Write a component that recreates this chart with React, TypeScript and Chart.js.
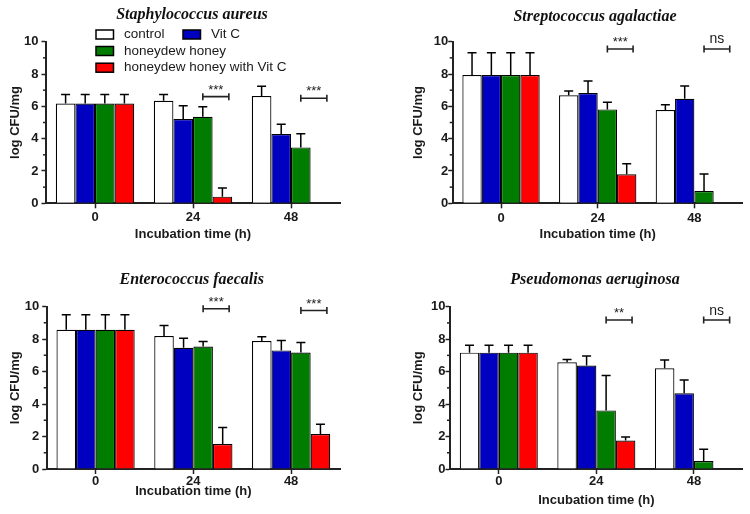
import React, { useEffect, useRef } from "react";
import { Chart, registerables } from "chart.js";

Chart.register(...registerables);

// ---------- data ----------
const categories = ["0", "24", "48"];
const seriesNames = ["control", "Vit C", "honeydew honey", "honeydew honey with Vit C"];
const seriesColors = ["#ffffff", "#0000c0", "#007c00", "#ff0000"];
const yMin = 0;
const yMax = 10;
const yStep = 2;
const xAxisTitle = "Incubation time (h)";
const yAxisTitle = "log CFU/mg";

// Staphylococcus aureus
const saControl = [6.18, 6.35, 6.64];
const saVitC = [6.18, 5.21, 4.29];
const saHoney = [6.18, 5.36, 3.46];
const saHoneyVitC = [6.18, 0.41, null];
const saControlErr = [0.56, 0.39, 0.61];
const saVitCErr = [0.56, 0.83, 0.6];
const saHoneyErr = [0.56, 0.61, 0.84];
const saHoneyVitCErr = [0.56, 0.54, 0];
const saSig = [
  { cat: 1, y: 6.6, label: "***" },
  { cat: 2, y: 6.5, label: "***" },
];

// Streptococcus agalactiae
const sgControl = [7.94, 6.68, 5.77];
const sgVitC = [7.94, 6.82, 6.47];
const sgHoney = [7.94, 5.81, 0.76];
const sgHoneyVitC = [7.94, 1.79, null];
const sgControlErr = [1.38, 0.27, 0.33];
const sgVitCErr = [1.38, 0.75, 0.79];
const sgHoneyErr = [1.38, 0.44, 1.05];
const sgHoneyVitCErr = [1.38, 0.66, 0];
const sgSig = [
  { cat: 1, y: 9.55, label: "***" },
  { cat: 2, y: 9.55, label: "ns" },
];

// Enterococcus faecalis
const efControl = [8.57, 8.18, 7.87];
const efVitC = [8.57, 7.46, 7.3];
const efHoney = [8.57, 7.54, 7.17];
const efHoneyVitC = [8.57, 1.54, 2.15];
const efControlErr = [0.92, 0.65, 0.27];
const efVitCErr = [0.92, 0.59, 0.61];
const efHoneyErr = [0.92, 0.31, 0.62];
const efHoneyVitCErr = [0.92, 1.02, 0.6];
const efSig = [
  { cat: 1, y: 9.86, label: "***" },
  { cat: 2, y: 9.75, label: "***" },
];

// Pseudomonas aeruginosa
const paControl = [7.17, 6.58, 6.21];
const paVitC = [7.17, 6.37, 4.67];
const paHoney = [7.17, 3.61, 0.49];
const paHoneyVitC = [7.17, 1.76, null];
const paControlErr = [0.45, 0.16, 0.51];
const paVitCErr = [0.45, 0.6, 0.82];
const paHoneyErr = [0.45, 2.15, 0.72];
const paHoneyVitCErr = [0.45, 0.21, 0];
const paSig = [
  { cat: 1, y: 9.18, label: "**" },
  { cat: 2, y: 9.18, label: "ns" },
];

// ---------- styles / layout ----------
const AXIS = "#222222";
const TEXT = "#1a1a1a";
const SANS = '"Liberation Sans", Arial, sans-serif';
const SERIF = '"Liberation Serif", "Times New Roman", serif';

type Sig = { cat: number; y: number; label: string };
type PanelCfg = {
  title: string;
  values: (number | null)[][];
  errors: number[][];
  sig: Sig[];
  left: number;
  top: number;
  padTop: number;
  padRight: number;
  yW: number;
  xH: number;
  yTitlePad: number;
  xTitlePad: number;
  xTickPad: number;
  yTickPad: number;
  titleX: number;
  titleY: number;
  legend: boolean;
};

const panels: PanelCfg[] = [
  {
    title: "Staphylococcus aureus",
    values: [saControl, saVitC, saHoney, saHoneyVitC],
    errors: [saControlErr, saVitCErr, saHoneyErr, saHoneyVitCErr],
    sig: saSig,
    left: 0, top: 0, padTop: 41.7, padRight: 35, yW: 46, xH: 53.7,
    yTitlePad: 7.2, xTitlePad: 14.9, xTickPad: 1, yTickPad: 3,
    titleX: 192, titleY: 15, legend: true,
  },
  {
    title: "Streptococcus agalactiae",
    values: [sgControl, sgVitC, sgHoney, sgHoneyVitC],
    errors: [sgControlErr, sgVitCErr, sgHoneyErr, sgHoneyVitCErr],
    sig: sgSig,
    left: 375, top: 0, padTop: 41.7, padRight: 7.3, yW: 77.7, xH: 53.7,
    yTitlePad: 35.5, xTitlePad: 14.9, xTickPad: 2, yTickPad: 0,
    titleX: 220, titleY: 16.7, legend: false,
  },
  {
    title: "Enterococcus faecalis",
    values: [efControl, efVitC, efHoney, efHoneyVitC],
    errors: [efControlErr, efVitCErr, efHoneyErr, efHoneyVitCErr],
    sig: efSig,
    left: 0, top: 257, padTop: 49.5, padRight: 35, yW: 46.7, xH: 45,
    yTitlePad: 7.2, xTitlePad: 14.9, xTickPad: 0, yTickPad: 3,
    titleX: 191.7, titleY: 23.3, legend: false,
  },
  {
    title: "Pseudomonas aeruginosa",
    values: [paControl, paVitC, paHoney, paHoneyVitC],
    errors: [paControlErr, paVitCErr, paHoneyErr, paHoneyVitCErr],
    sig: paSig,
    left: 375, top: 257, padTop: 49.7, padRight: 7.3, yW: 75, xH: 45,
    yTitlePad: 35.5, xTitlePad: 5.9, xTickPad: 0, yTickPad: 0,
    titleX: 220, titleY: 23.3, legend: false,
  },
];

function makeAnnotPlugin(cfg: PanelCfg) {
  return {
    id: "annot",
    afterDatasetsDraw(chart: any) {
      const ctx = chart.ctx;
      const yScale = chart.scales.y;
      ctx.save();
      ctx.strokeStyle = "#000";
      ctx.lineWidth = 1.5;
      // error bars (upper only)
      cfg.values.forEach((series, ds) => {
        const meta = chart.getDatasetMeta(ds);
        meta.data.forEach((el: any, j: number) => {
          const v = series[j];
          if (v == null) return;
          const e = cfg.errors[ds][j];
          if (!e) return;
          const x = el.x;
          const yTop = yScale.getPixelForValue(v + e);
          const yBar = el.y;
          ctx.beginPath();
          ctx.moveTo(x, yBar);
          ctx.lineTo(x, yTop);
          ctx.moveTo(x - 4.5, yTop);
          ctx.lineTo(x + 4.5, yTop);
          ctx.stroke();
        });
      });
      ctx.restore();
    },
    afterDraw(chart: any) {
      const ctx = chart.ctx;
      const yScale = chart.scales.y;
      const area = chart.chartArea;
      ctx.save();
      // minor y ticks
      ctx.strokeStyle = AXIS;
      ctx.lineWidth = 1.5;
      for (let v = yMin + yStep / 2; v < yMax; v += yStep) {
        const y = yScale.getPixelForValue(v);
        ctx.beginPath();
        ctx.moveTo(area.left - 3, y);
        ctx.lineTo(area.left, y);
        ctx.stroke();
      }
      // significance brackets
      cfg.sig.forEach((s) => {
        const el = chart.getDatasetMeta(2).data[s.cat];
        const x1 = el.x;
        const x2 = x1 + el.width * 1.33;
        const y = yScale.getPixelForValue(s.y);
        ctx.strokeStyle = AXIS;
        ctx.lineWidth = 1.6;
        ctx.beginPath();
        ctx.moveTo(x1, y);
        ctx.lineTo(x2, y);
        ctx.moveTo(x1, y - 3.5);
        ctx.lineTo(x1, y + 3.5);
        ctx.moveTo(x2, y - 3.5);
        ctx.lineTo(x2, y + 3.5);
        ctx.stroke();
        ctx.fillStyle = TEXT;
        ctx.textAlign = "center";
        ctx.textBaseline = "alphabetic";
        if (s.label === "ns") {
          ctx.font = `14px ${SANS}`;
          ctx.fillText(s.label, (x1 + x2) / 2, y - 5.5);
        } else {
          ctx.font = `13px ${SANS}`;
          ctx.fillText(s.label, (x1 + x2) / 2, y - 3);
        }
      });
      // panel title
      ctx.fillStyle = "#111";
      ctx.font = `italic bold 16px ${SERIF}`;
      ctx.textAlign = "center";
      ctx.textBaseline = "middle";
      ctx.fillText(cfg.title, cfg.titleX, cfg.titleY);
      // legend
      if (cfg.legend) {
        const items = [
          { i: 0, bx: 96, cy: 34.5 },
          { i: 1, bx: 183, cy: 34.5 },
          { i: 2, bx: 96, cy: 51 },
          { i: 3, bx: 96, cy: 67.7 },
        ];
        ctx.font = `13.5px ${SANS}`;
        ctx.textAlign = "left";
        ctx.textBaseline = "middle";
        items.forEach((it) => {
          ctx.fillStyle = seriesColors[it.i];
          ctx.fillRect(it.bx, it.cy - 4.5, 17.5, 9);
          ctx.strokeStyle = "#000";
          ctx.lineWidth = 1.5;
          ctx.strokeRect(it.bx, it.cy - 4.5, 17.5, 9);
          ctx.fillStyle = TEXT;
          ctx.fillText(seriesNames[it.i], it.bx + 28, it.cy);
        });
      }
      ctx.restore();
    },
  };
}

function BarPanel({ cfg }: { cfg: PanelCfg }) {
  const ref = useRef<HTMLCanvasElement | null>(null);
  useEffect(() => {
    const canvas = ref.current;
    if (!canvas) return;
    const tickFont = { family: SANS, size: 13, weight: "bold" as const };
    const chart = new Chart(canvas, {
      type: "bar",
      data: {
        labels: categories,
        datasets: seriesNames.map((name, i) => ({
          label: name,
          data: cfg.values[i] as any,
          backgroundColor: seriesColors[i],
          borderColor: "#000",
          borderWidth: 1.2,
          categoryPercentage: 0.8,
          barPercentage: 1.0,
        })),
      },
      options: {
        responsive: false,
        animation: false,
        devicePixelRatio: 1,
        layout: { padding: { top: cfg.padTop, left: 0, right: cfg.padRight, bottom: 0 } },
        plugins: {
          legend: { display: false },
          title: { display: false },
          tooltip: { enabled: false },
        },
        scales: {
          x: {
            grid: {
              display: true,
              offset: false,
              drawOnChartArea: false,
              drawTicks: true,
              tickLength: 5,
              tickWidth: 1.5,
              tickColor: AXIS,
            },
            border: { display: true, color: AXIS, width: 2 },
            ticks: { font: tickFont, color: TEXT, padding: cfg.xTickPad },
            title: {
              display: true,
              text: xAxisTitle,
              font: tickFont,
              color: TEXT,
              padding: { top: 0, bottom: cfg.xTitlePad },
            },
            afterFit: (s: any) => {
              s.height = cfg.xH;
            },
          } as any,
          y: {
            min: yMin,
            max: yMax,
            ticks: { stepSize: yStep, font: tickFont, color: TEXT, padding: cfg.yTickPad },
            grid: {
              display: true,
              drawOnChartArea: false,
              drawTicks: true,
              tickLength: 4.5,
              tickWidth: 1.5,
              tickColor: AXIS,
            },
            border: { display: true, color: AXIS, width: 2 },
            title: {
              display: true,
              text: yAxisTitle,
              font: tickFont,
              color: TEXT,
              padding: { top: cfg.yTitlePad, bottom: 0 },
            },
            afterFit: (s: any) => {
              s.width = cfg.yW;
            },
          } as any,
        },
      },
      plugins: [makeAnnotPlugin(cfg)],
    });
    return () => chart.destroy();
  }, [cfg]);
  return (
    <canvas
      ref={ref}
      width={375}
      height={257}
      style={{ position: "absolute", left: cfg.left, top: cfg.top, width: 375, height: 257 }}
    />
  );
}

export default function App() {
  return (
    <div style={{ position: "fixed", left: 0, top: 0, width: 750, height: 514, background: "#fff" }}>
      {panels.map((p) => (
        <BarPanel key={p.title} cfg={p} />
      ))}
    </div>
  );
}
